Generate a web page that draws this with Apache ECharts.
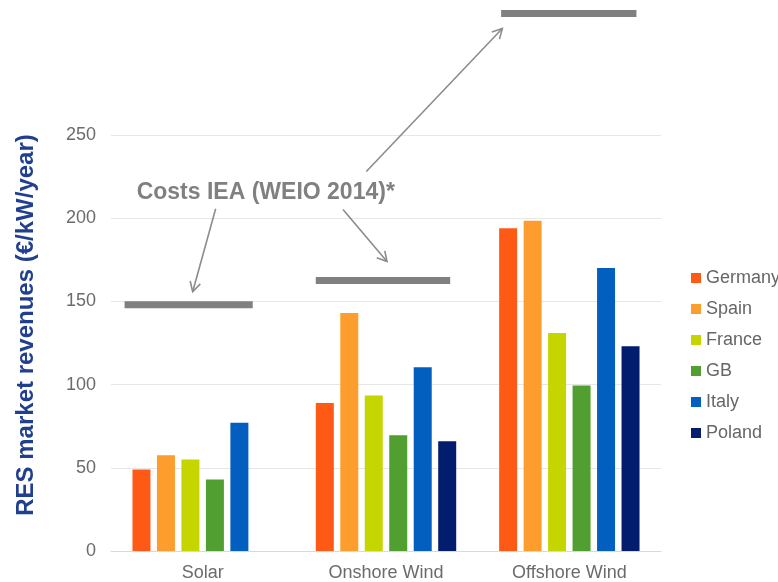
<!DOCTYPE html>
<html>
<head>
<meta charset="utf-8">
<script src="https://cdn.jsdelivr.net/npm/echarts@6/dist/echarts.min.js"></script>
<style>
  html, body { margin: 0; padding: 0; background: #fff; }
  #chart { width: 778px; height: 582px; }
</style>
</head>
<body>
<div id="chart"></div>
<script>
var categories = ['Solar', 'Onshore Wind', 'Offshore Wind'];
var countries = ['Germany', 'Spain', 'France', 'GB', 'Italy', 'Poland'];
var germany = [49, 89, 194];
var spain = [57.5, 143, 198.5];
var france = [55, 93.5, 131];
var gb = [43, 69.5, 99.5];
var italy = [77, 110.5, 170];
var poland = [null, 66, 123];
var ieaCosts = [148, 162.5, 323];
var costLabel = 'Costs IEA (WEIO 2014)*';

var colors = ['#fe5a16', '#fd9d2e', '#c5d500', '#519e31', '#035fbf', '#031d6e'];
var font = 'Liberation Sans, Arial, sans-serif';
// where each cost bar starts/ends, as part of the category band
var costSpan = [[-0.426, 0.273], [-0.383, 0.35], [-0.372, 0.366]];

var values = [germany, spain, france, gb, italy, poland];
var barSeries = countries.map(function (name, k) {
    return {
        name: name,
        type: 'bar',
        barWidth: 18,
        barGap: '36%',
        itemStyle: { color: colors[k] },
        data: values[k]
    };
});

var costData = ieaCosts.map(function (v, i) { return [i, v]; });

var chart = echarts.init(document.getElementById('chart'));
chart.setOption({
    animation: false,
    textStyle: { fontFamily: font },
    grid: { left: 111, right: 117, top: 135, bottom: 31 },
    legend: {
        orient: 'vertical',
        left: 686,
        top: 264,
        itemWidth: 10,
        itemHeight: 10,
        itemGap: 13,
        icon: 'rect',
        data: countries,
        textStyle: { color: '#666', fontSize: 18 }
    },
    xAxis: {
        type: 'category',
        data: categories,
        axisTick: { show: false },
        axisLine: { lineStyle: { color: '#d9d9d9' } },
        axisLabel: { color: '#6b6b6b', fontSize: 18, margin: 13 }
    },
    yAxis: {
        type: 'value',
        min: 0,
        max: 250,
        interval: 50,
        name: 'RES market revenues (€/kW/year)',
        nameLocation: 'middle',
        nameGap: 73,
        nameTextStyle: { color: '#213f8f', fontSize: 24, fontWeight: 'bold', padding: [0, 0, 0, 36] },
        axisLine: { show: false },
        axisTick: { show: false },
        axisLabel: { color: '#6b6b6b', fontSize: 18, margin: 15 },
        splitLine: { lineStyle: { color: '#e6e6e6' } }
    },
    series: barSeries.concat([{
        name: 'IEA costs',
        type: 'custom',
        clip: false,
        z: 5,
        encode: { x: 0, y: 1 },
        renderItem: function (params, api) {
            var i = api.value(0);
            var p = api.coord([i, api.value(1)]);
            var band = api.size([1, 0])[0];
            return {
                type: 'line',
                shape: { x1: p[0] + band * costSpan[i][0], y1: p[1], x2: p[0] + band * costSpan[i][1], y2: p[1] },
                style: { stroke: '#808080', lineWidth: 7, lineCap: 'butt' }
            };
        },
        data: costData
    }])
});

// annotation: label + arrows pointing to the cost bars
function px(cat, v) {
    return chart.convertToPixel({ xAxisIndex: 0, yAxisIndex: 0 }, [cat, v]);
}
function arrow(from, to) {
    var ang = Math.atan2(to[1] - from[1], to[0] - from[0]);
    var len = 11, spread = 0.5;
    var a = [to[0] - len * Math.cos(ang - spread), to[1] - len * Math.sin(ang - spread)];
    var b = [to[0] - len * Math.cos(ang + spread), to[1] - len * Math.sin(ang + spread)];
    var st = { stroke: '#8c8c8c', lineWidth: 1.6, fill: null };
    return [
        { type: 'line', shape: { x1: from[0], y1: from[1], x2: to[0], y2: to[1] }, style: st },
        { type: 'polyline', shape: { points: [a, to, b] }, style: st }
    ];
}
var c0 = px(0, ieaCosts[0]);
var c1 = px(1, ieaCosts[1]);
var c2 = px(2, ieaCosts[2]);
var t = px(0, 216);
var g = [{
    type: 'text',
    left: t[0] - 66,
    top: t[1] - 10,
    style: { text: costLabel, fill: '#808080', font: 'bold 23px ' + font }
}];
g = g.concat(arrow([c0[0] + 13, c0[1] - 96], [c0[0] - 10, c0[1] - 13]));
g = g.concat(arrow([c1[0] - 43, c1[1] - 71], [c1[0] + 1, c1[1] - 19]));
g = g.concat(arrow([c2[0] - 203, c2[1] + 158], [c2[0] - 67, c2[1] + 15]));
chart.setOption({ graphic: g });
</script>
</body>
</html>
